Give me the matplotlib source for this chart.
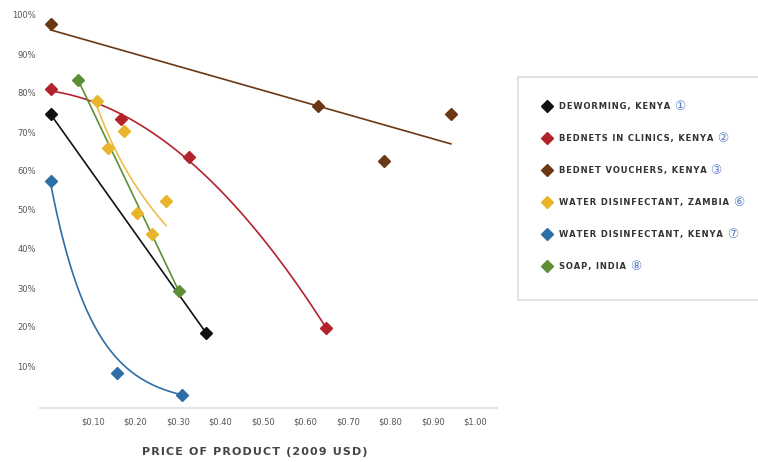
import numpy as np
import matplotlib
matplotlib.use("Agg")
import matplotlib.pyplot as plt
from matplotlib.lines import Line2D
from matplotlib.patches import Rectangle

# ---- data (price in USD, uptake in %) ----
series_names = ["DEWORMING, KENYA", "BEDNETS IN CLINICS, KENYA", "BEDNET VOUCHERS, KENYA",
                "WATER DISINFECTANT, ZAMBIA", "WATER DISINFECTANT, KENYA", "SOAP, INDIA"]
series_refs = ["\u2460", "\u2461", "\u2462", "\u2465", "\u2466", "\u2467"]

deworm_x = [0.0, 0.366]
deworm_y = [74.6, 18.5]
clinic_x = [0.0, 0.166, 0.326, 0.648]
clinic_y = [81.0, 73.3, 63.6, 19.7]
voucher_x = [0.0, 0.63, 0.785, 0.942]
voucher_y = [97.7, 76.7, 62.6, 74.6]
zambia_x = [0.109, 0.135, 0.173, 0.204, 0.239, 0.272]
zambia_y = [78.0, 65.9, 70.3, 49.2, 43.8, 52.3]
kenyaw_x = [0.0, 0.156, 0.31]
kenyaw_y = [57.4, 8.2, 2.6]
soap_x = [0.065, 0.302]
soap_y = [83.3, 29.2]

x_ticks = [0.1, 0.2, 0.3, 0.4, 0.5, 0.6, 0.7, 0.8, 0.9, 1.0]
x_ticklabels = ["$0.10", "$0.20", "$0.30", "$0.40", "$0.50", "$0.60", "$0.70", "$0.80", "$0.90", "$1.00"]
y_ticks = [10, 20, 30, 40, 50, 60, 70, 80, 90, 100]
y_ticklabels = ["10%", "20%", "30%", "40%", "50%", "60%", "70%", "80%", "90%", "100%"]

colors = ["#111111", "#b3232b", "#6b3815", "#e8b42a", "#2d6ea6", "#5d8f36"]

plt.rcParams['font.family'] = ['DejaVu Sans', 'Noto Sans CJK JP']

def spaced(s):
    return "\u200a".join(s)

W, H = 758, 462
fig = plt.figure(figsize=(W / 100, H / 100), dpi=100)
ax = fig.add_axes([40 / W, 1 - 408 / H, 457 / W, (408 - 5) / H])

x0_px, px_per_unit = 50.5, 425.0
ax.set_xlim((40 - x0_px) / px_per_unit, (497 - x0_px) / px_per_unit)
ax.set_ylim(-3 / 3.9, 400 / 3.9)

def trend(x, y, kind, deg=1, w=None):
    x = np.asarray(x); y = np.asarray(y)
    xs = np.linspace(x.min(), x.max(), 200)
    if kind == "poly":
        c = np.polyfit(x, y, deg, w=w)
        return xs, np.polyval(c, xs)
    if kind == "log":
        c = np.polyfit(np.log(x), y, 1)
        return xs, np.polyval(c, np.log(xs))
    c = np.polyfit(x, np.log(y), deg, w=w)
    return xs, np.exp(np.polyval(c, xs))

lw = 1.2
ms = 6
# deworming
ax.plot(*trend(deworm_x, deworm_y, "poly", 1), color=colors[0], lw=lw, zorder=2)
ax.plot(deworm_x, deworm_y, "D", color=colors[0], ms=ms, zorder=3)
# bednets clinics
ax.plot(*trend(clinic_x, clinic_y, "poly", 2), color=colors[1], lw=lw, zorder=2)
ax.plot(clinic_x, clinic_y, "D", color=colors[1], ms=ms, zorder=3)
# vouchers
ax.plot(*trend(voucher_x, voucher_y, "poly", 1), color=colors[2], lw=lw, zorder=2)
ax.plot(voucher_x, voucher_y, "D", color=colors[2], ms=ms, zorder=3)
# zambia
ax.plot(*trend(zambia_x, zambia_y, "log"), color=colors[3], lw=lw, alpha=0.85, zorder=2)
ax.plot(zambia_x, zambia_y, "D", color=colors[3], ms=ms, zorder=3)
# kenya water
ax.plot(*trend(kenyaw_x, kenyaw_y, "exp", 1, w=[5, 1, 5]), color=colors[4], lw=lw, zorder=2)
ax.plot(kenyaw_x, kenyaw_y, "D", color=colors[4], ms=ms, zorder=3)
# soap
ax.plot(*trend(soap_x, soap_y, "poly", 1), color=colors[5], lw=lw, zorder=2)
ax.plot(soap_x, soap_y, "D", color=colors[5], ms=ms, zorder=3)

for s in ["top", "right", "left"]:
    ax.spines[s].set_visible(False)
ax.spines["bottom"].set_color("#e4e4e4")
ax.spines["bottom"].set_linewidth(1.5)
ax.set_xticks(x_ticks)
ax.set_xticklabels(x_ticklabels)
ax.set_yticks(y_ticks)
ax.set_yticklabels(y_ticklabels)
ax.tick_params(axis="both", length=0, labelsize=6, labelcolor="#555555")
ax.tick_params(axis="x", pad=7)
ax.tick_params(axis="y", pad=3)

fig.text(255 / W, 1 - 452 / H, spaced("PRICE OF PRODUCT (2009 USD)"), ha="center", va="center",
         fontsize=8, fontweight="bold", color="#444444")

# legend box
fig.add_artist(Rectangle((518 / W, 1 - 300 / H), (W + 10 - 518) / W, (300 - 77) / H,
                         transform=fig.transFigure, facecolor="white", edgecolor="#dddddd",
                         lw=1.2, zorder=0, clip_on=False))
handles = [Line2D([], [], ls="none", marker="D", color=c, ms=6) for c in colors]
leg = fig.legend(handles, [spaced(n) for n in series_names], loc="upper left",
                 bbox_to_anchor=(543 / W, 1 - 102 / H), frameon=False,
                 fontsize=6.0, labelspacing=2.75, handlelength=1.0, handletextpad=0.9,
                 borderpad=0, borderaxespad=0)
for t in leg.get_texts():
    t.set_fontweight("bold")
    t.set_color("#333333")

fig.canvas.draw()
r = fig.canvas.get_renderer()
for t, ref in zip(leg.get_texts(), series_refs):
    bb = t.get_window_extent(r)
    fig.text((bb.x1 + 4) / W, (bb.y0 + bb.y1) / 2 / H, ref, ha="left", va="center",
             fontsize=9, color="#5a7cc4", family=['DejaVu Sans', 'Noto Sans CJK JP'])

fig.savefig("out.png", dpi=100)
